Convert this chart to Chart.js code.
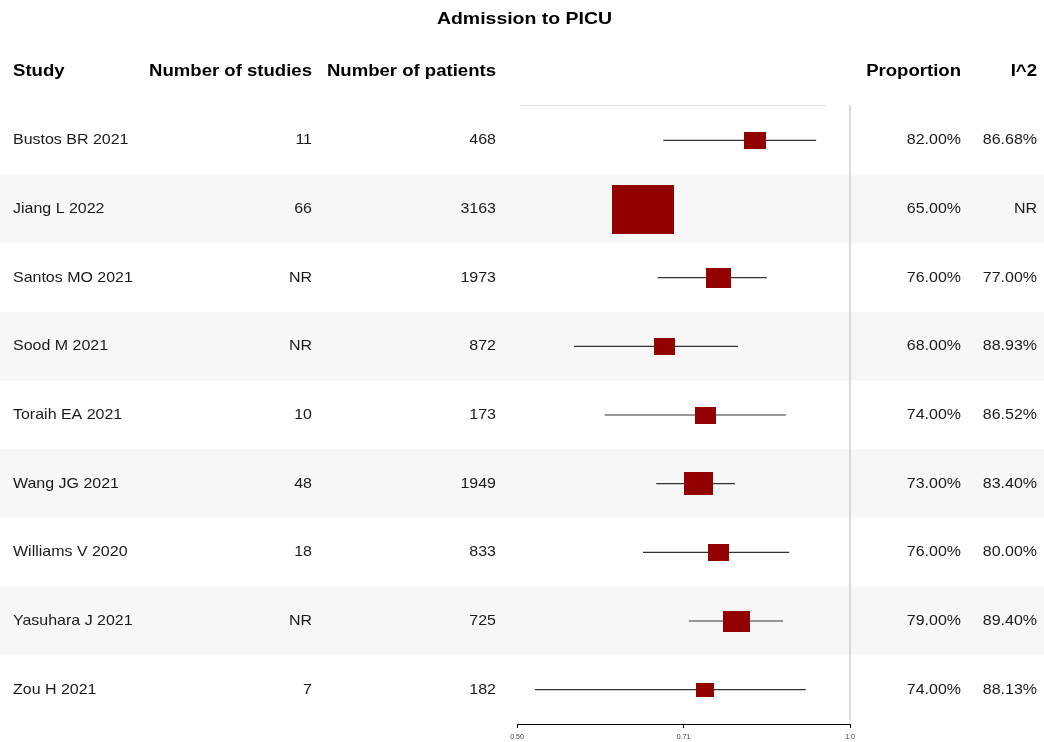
<!DOCTYPE html>
<html>
<head>
<meta charset="utf-8">
<title>Admission to PICU</title>
<script src="https://cdn.jsdelivr.net/npm/chart.js@4/dist/chart.umd.min.js"></script>
<style>
  html, body { margin: 0; padding: 0; background: #ffffff; }
  #wrap { width: 1044px; height: 742px; }
</style>
</head>
<body>
<div id="wrap"><canvas id="forest" width="1044" height="742"></canvas></div>
<script>
// Study-level data
const studies = ['Bustos BR 2021', 'Jiang L 2022', 'Santos MO 2021', 'Sood M 2021', 'Toraih EA 2021',
                 'Wang JG 2021', 'Williams V 2020', 'Yasuhara J 2021', 'Zou H 2021'];
const numStudies = ['11', '66', 'NR', 'NR', '10', '48', '18', 'NR', '7'];
const numPatients = [468, 3163, 1973, 872, 173, 1949, 833, 725, 182];
const proportion = [0.82, 0.65, 0.76, 0.68, 0.74, 0.73, 0.76, 0.79, 0.74];
const ciLower = [0.678, 0.62, 0.670, 0.563, 0.600, 0.668, 0.650, 0.715, 0.519];
const ciUpper = [0.932, 0.68, 0.841, 0.792, 0.875, 0.787, 0.881, 0.870, 0.912];
const iSquared = ['86.68%', 'NR', '77.00%', '88.93%', '86.52%', '83.40%', '80.00%', '89.40%', '88.13%'];

// Axis ticks
const tickValues = [0.5, 0.7071, 1.0];
const tickLabels = ['0.50', '0.71', '1.0'];

// Styling
const boxWidths = [22, 62, 25, 21, 21, 29, 21, 27, 18];
const BOX_COLOR = '#920000';
const CI_COLOR = '#333333';
const FONT = '"Liberation Sans", Arial, Helvetica, sans-serif';

// Square markers drawn as small canvases, slightly wider than tall
const boxImages = boxWidths.map(w => {
  const h = Math.round(w * 0.79);
  const c = document.createElement('canvas');
  c.width = w; c.height = h;
  const g = c.getContext('2d');
  g.fillStyle = BOX_COLOR;
  g.fillRect(0, 0, w, h);
  return c;
});

const rowY = studies.map((_, i) => i + 1);

const ciDatasets = studies.map((s, i) => ({
  label: s + ' CI',
  data: [{ x: ciLower[i], y: rowY[i] }, { x: ciUpper[i], y: rowY[i] }],
  showLine: true,
  borderColor: CI_COLOR,
  borderWidth: 1.2,
  pointRadius: 0,
  order: 2
}));

function drawText(ctx, str, x, y, o) {
  ctx.save();
  ctx.font = (o.bold ? 'bold ' : '') + o.size + 'px ' + FONT;
  ctx.fillStyle = o.color || '#1a1a1a';
  ctx.textBaseline = 'middle';
  ctx.textAlign = o.align || 'left';
  ctx.translate(x, y);
  ctx.scale(o.sx || 1, 1);
  ctx.fillText(str, 0, 0);
  ctx.restore();
}

const forestTable = {
  id: 'forestTable',
  beforeDraw(chart) {
    const { ctx, width, height, scales: { y } } = chart;
    ctx.save();
    ctx.fillStyle = '#ffffff';
    ctx.fillRect(0, 0, width, height);
    // alternate row shading
    ctx.fillStyle = '#f7f7f7';
    rowY.forEach((r, i) => {
      if (i % 2 === 1) {
        const t = y.getPixelForValue(r - 0.5);
        const b = y.getPixelForValue(r + 0.5);
        ctx.fillRect(0, t, width, b - t);
      }
    });
    ctx.restore();
  },
  beforeDatasetsDraw(chart) {
    const { ctx, chartArea, scales: { x } } = chart;
    ctx.save();
    // top rule above the plot column
    ctx.strokeStyle = '#e2e2e2';
    ctx.lineWidth = 1;
    ctx.beginPath();
    ctx.moveTo(chartArea.left + 3, chartArea.top - 0.5);
    ctx.lineTo(chartArea.right - 23, chartArea.top - 0.5);
    ctx.stroke();
    // reference line at 1.0
    const xr = x.getPixelForValue(1.0);
    ctx.strokeStyle = '#cfcfcf';
    ctx.lineWidth = 1.5;
    ctx.beginPath();
    ctx.moveTo(xr, chartArea.top - 1);
    ctx.lineTo(xr, chartArea.bottom - 4);
    ctx.stroke();
    ctx.restore();
  },
  afterDraw(chart) {
    const { ctx, scales: { y } } = chart;
    const head = { size: 16, bold: true, sx: 1.16, color: '#000000' };
    const cell = { size: 15, sx: 1.065 };
    drawText(ctx, 'Admission to PICU', 524.5, 19, { size: 16.5, bold: true, sx: 1.18, align: 'center', color: '#000000' });
    const hy = 71.5;
    drawText(ctx, 'Study', 13, hy, head);
    drawText(ctx, 'Number of studies', 312, hy, Object.assign({ align: 'right' }, head));
    drawText(ctx, 'Number of patients', 496, hy, Object.assign({ align: 'right' }, head));
    drawText(ctx, 'Proportion', 961, hy, Object.assign({ align: 'right' }, head));
    drawText(ctx, 'I^2', 1037, hy, Object.assign({ align: 'right' }, head));
    studies.forEach((s, i) => {
      const py = y.getPixelForValue(rowY[i]);
      drawText(ctx, s, 13, py, cell);
      drawText(ctx, numStudies[i], 312, py, Object.assign({ align: 'right' }, cell));
      drawText(ctx, String(numPatients[i]), 496, py, Object.assign({ align: 'right' }, cell));
      drawText(ctx, (proportion[i] * 100).toFixed(2) + '%', 961, py, Object.assign({ align: 'right' }, cell));
      drawText(ctx, iSquared[i], 1037, py, Object.assign({ align: 'right' }, cell));
    });
  }
};

new Chart(document.getElementById('forest'), {
  type: 'scatter',
  data: {
    datasets: [
      {
        label: 'Proportion',
        data: proportion.map((p, i) => ({ x: p, y: rowY[i] })),
        pointStyle: boxImages,
        pointRadius: 10,
        order: 0
      },
      ...ciDatasets
    ]
  },
  options: {
    responsive: false,
    animation: false,
    devicePixelRatio: 1,
    events: [],
    layout: { padding: { left: 517, right: 194, top: 106, bottom: 0 } },
    plugins: { legend: { display: false }, tooltip: { enabled: false }, title: { display: false } },
    scales: {
      x: {
        type: 'logarithmic',
        min: 0.5,
        max: 1.0,
        afterBuildTicks(scale) {
          scale.ticks = tickValues.map(v => ({ value: v }));
        },
        afterFit(scale) { scale.height = 18; },
        ticks: {
          autoSkip: false,
          maxRotation: 0,
          padding: 5,
          color: '#444444',
          font: { size: 7, family: FONT },
          callback: (v, i) => tickLabels[i]
        },
        grid: { display: true, drawOnChartArea: false, drawTicks: true, tickLength: 4, color: '#000000' },
        border: { display: true, color: '#000000', width: 1 }
      },
      y: {
        type: 'linear',
        min: 0.5,
        max: 9.5,
        reverse: true,
        display: false
      }
    }
  },
  plugins: [forestTable]
});
</script>
</body>
</html>
